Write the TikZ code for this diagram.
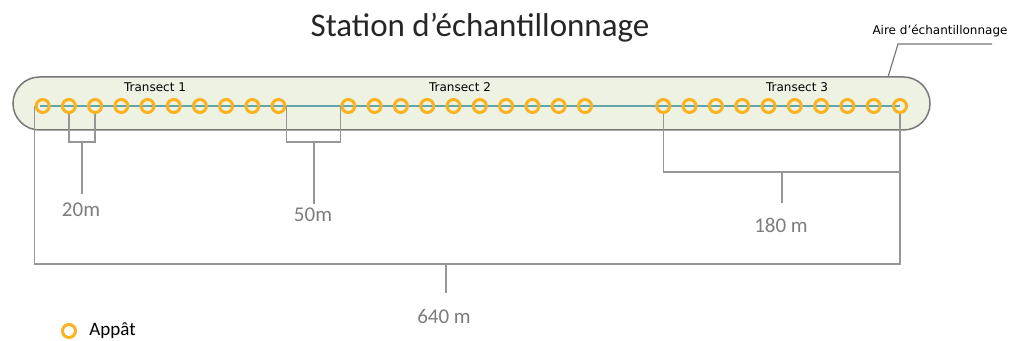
\documentclass[tikz,border=0pt]{standalone}
\usepackage{fontspec}
\setmainfont{Carlito}
\newfontfamily\tahoma{DejaVu Sans}
\definecolor{pillfill}{RGB}{238,242,226}
\definecolor{pillline}{RGB}{120,120,120}
\definecolor{dimline}{RGB}{150,150,150}
\definecolor{dimtext}{RGB}{125,125,125}
\definecolor{baitring}{RGB}{250,178,30}
\definecolor{transline}{RGB}{95,165,170}
\tikzset{
  bait/.style={circle,draw=baitring,line width=1.5pt,minimum size=6.5pt,inner sep=0pt},
  dim/.style={draw=dimline,line width=0.75pt},
  dimlabel/.style={text=dimtext,font=\fontsize{10.5}{12}\selectfont,inner sep=1pt},
  translabel/.style={font=\tahoma\fontsize{6}{7}\selectfont,inner sep=1pt}
}
\begin{document}
\begin{tikzpicture}[x=0.5pt,y=-0.5pt]
      \useasboundingbox (0,0) rectangle (1016,341);

      % sampling area and title
      \node[draw=pillline,fill=pillfill,line width=0.75pt,rounded corners=13.25pt,
            minimum width=458.5pt,minimum height=26.5pt] (aire) at (471.5,103.5) {};
      \node[font=\fontsize{16.5}{20}\selectfont,text=black!85] (titre) at (480,28) {Station d’échantillonnage};
      \node[translabel] (airelbl) at (940,31) {Aire d’échantillonnage};
      \coordinate (u1) at (992,44);
      \coordinate (u0) at (898,44);
      \coordinate (tip) at (888,77);
      \draw[pillline,line width=0.6pt] (u1) -- (u0) -- (tip);

      \node[translabel] (t1) at (155,87) {Transect 1};
      \node[translabel] (t2) at (460,87) {Transect 2};
      \node[translabel] (t3) at (797,87) {Transect 3};

      % baits
      \coordinate (l0) at (40,106);
      \coordinate (l1) at (900,106);
      \draw[transline,line width=1pt] (l0) -- (l1);
      \foreach \i in {1,...,10} {
        \node[bait] (a\i) at ({42.7+26.2*(\i-1)},106) {};
        \node[bait] (b\i) at ({348.3+26.3*(\i-1)},106) {};
        \node[bait] (c\i) at ({663.3+26.3*(\i-1)},106) {};
      }

      % distances
      \coordinate (d20) at (82,142);
      \coordinate (d50) at (314,142);
      \coordinate (d180) at (782,172);
      \coordinate (d640) at (446,264);
      \coordinate (e20) at (82,194);
      \coordinate (e50) at (314,204);
      \coordinate (e180) at (782,203);
      \coordinate (e640) at (446,293);
      \draw[dim] (a2.south) |- (d20) -| (a3.south);
      \draw[dim] (a10.east) |- (d50) -| (b1.west);
      \draw[dim] (c1.south) |- (d180) -| (c10.south);
      \draw[dim] (a1.west) |- (d640) -| (c10.south);
      \draw[dim] (d20) -- (e20);
      \draw[dim] (d50) -- (e50);
      \draw[dim] (d180) -- (e180);
      \draw[dim] (d640) -- (e640);
      \node[dimlabel] (l20) at (81,210) {20m};
      \node[dimlabel] (l50) at (313,215) {50m};
      \node[dimlabel] (l180) at (781,225) {180 m};
      \node[dimlabel] (l640) at (444,316) {640 m};

      % legend
      \node[bait] (leg) at (69,331) {};
      \node[anchor=west,font=\fontsize{9.5}{11}\selectfont,inner sep=0pt] (legtxt) at (89,331) {Appât};
    \end{tikzpicture}
\end{document}
